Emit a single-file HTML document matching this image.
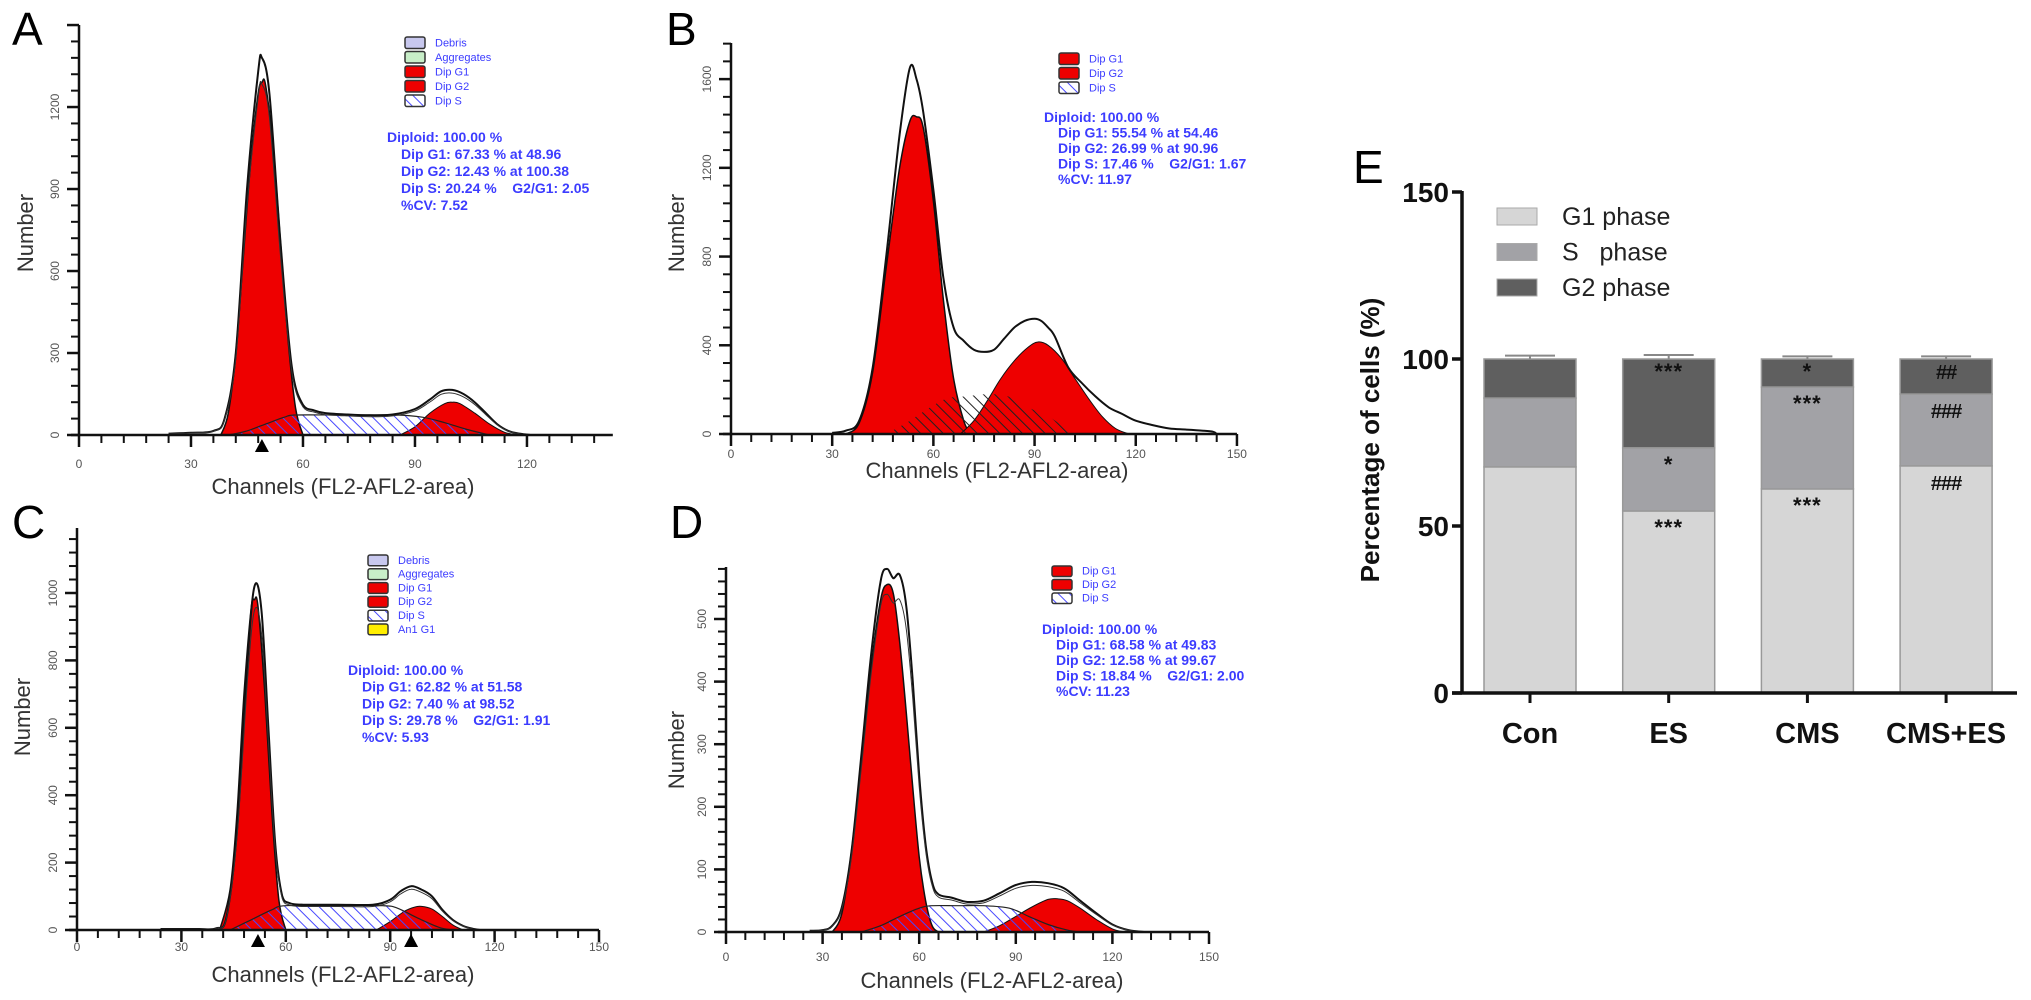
<!DOCTYPE html>
<html><head><meta charset="utf-8"><title>Cell cycle flow cytometry</title>
<style>
html,body{margin:0;padding:0;background:#fff;}
svg{display:block;}
.tk{font-family:"Liberation Sans",sans-serif;font-size:12px;fill:#555;}
.ax{font-family:"Liberation Sans",sans-serif;font-size:22px;fill:#333;}
.pl{font-family:"Liberation Sans",sans-serif;font-size:46px;fill:#000;}
.info{font-family:"Liberation Sans",sans-serif;font-size:14px;font-weight:bold;fill:#3c3cff;}
.leg{font-family:"Liberation Sans",sans-serif;font-size:11px;fill:#3c3cff;}
.eb{font-family:"Liberation Sans",sans-serif;font-weight:bold;fill:#111;}
</style></head>
<body>
<svg id="fig" width="2031" height="1000" viewBox="0 0 2031 1000" xmlns="http://www.w3.org/2000/svg">
<defs>
<pattern id="hatchBlue" width="8" height="8" patternUnits="userSpaceOnUse" patternTransform="rotate(-45)">
<rect width="8" height="8" fill="none"/><line x1="0" y1="0" x2="0" y2="8" stroke="#4848ff" stroke-width="2"/></pattern>
<pattern id="hatchBlack" width="8" height="8" patternUnits="userSpaceOnUse" patternTransform="rotate(-45)">
<line x1="0" y1="0" x2="0" y2="8" stroke="#222" stroke-width="2"/></pattern>
</defs>
</svg>
<script>
// ---------- Histogram data (channels / counts) ----------
const aOuterCh=[24,30,36,39,42,45,48,49,51,54,57,60,63,66,72,78,84,90,94,97,100,103,106,109,112,115,118,121];
const aOuterV=[5,8,15,60,300,900,1330,1380,1250,700,250,110,90,80,75,72,75,95,130,160,165,150,120,80,40,15,5,0];
const aG1Ch=[38,40,42,44,46,48,49,50,52,54,56,58,60];
const aG1V=[0,80,300,650,1000,1250,1290,1280,1050,700,350,100,0];
const aSCh=[40,45,50,55,58,70,85,92,98,104,110];
const aSV=[0,15,40,65,73,73,73,65,45,20,0];
const aG2Ch=[86,90,94,98,100,102,106,110,114,118];
const aG2V=[0,30,80,115,120,115,80,40,10,0];

const bOuterCh=[30,34,38,42,46,50,53,55,57,60,63,66,69,72,75,78,81,84,87,90,92,94,96,100,104,108,112,116,120,125,130,135,140,143,144];
const bOuterV=[5,15,60,300,800,1350,1650,1600,1450,1100,700,480,420,380,370,380,430,480,510,520,510,480,440,300,230,170,120,90,60,40,25,20,15,10,0];
const bG1Ch=[34,38,42,46,50,53,55,57,60,63,66,69,71];
const bG1V=[0,50,280,750,1200,1410,1430,1380,1050,600,250,60,0];
const bSCh=[46,52,58,64,70,76,82,88,94,100,104];
const bSV=[0,50,110,160,170,180,170,120,80,20,0];
const bG2Ch=[68,72,76,80,84,88,91,94,98,102,106,110,114,118];
const bG2V=[0,60,150,250,330,390,415,400,340,250,160,80,25,0];

const cOuterCh=[24,28,35,40,43,46,49,51,53,55,57,59,61,65,75,85,90,93,96,99,102,105,108,111,114,116];
const cOuterV=[3,3,3,5,40,300,800,1020,950,600,250,100,80,75,75,75,90,115,130,120,100,60,30,12,3,0];
const cG1Ch=[41,44,46,48,50,51,52,54,56,58,60];
const cG1V=[0,120,350,700,950,980,960,700,350,90,0];
const cSCh=[44,50,56,60,75,88,92,98,104,108];
const cSV=[0,30,60,72,72,72,65,35,8,0];
const cG2Ch=[86,90,94,97,99,102,105,108,111];
const cG2V=[0,25,55,68,70,62,40,15,0];

const dOuterCh=[26,30,33,36,39,42,45,48,50,52,54,56,58,60,62,64,66,70,75,80,85,90,95,100,105,110,115,120,125,130];
const dOuterV=[2,3,10,40,130,280,440,560,580,565,570,520,400,250,140,80,60,55,48,50,62,75,80,78,70,50,30,12,3,0];
const dG1Ch=[33,36,39,42,45,48,50,52,54,56,58,60,62,64,66];
const dG1V=[0,30,130,270,420,530,555,540,460,350,230,120,50,10,0];
const dSCh=[42,48,54,60,64,72,80,88,94,100,106,110];
const dSV=[0,10,25,38,42,42,42,38,25,12,3,0];
const dG2Ch=[80,85,90,95,100,103,106,110,115,120,124];
const dG2V=[0,10,25,40,52,53,50,38,20,5,0];

const xTickLabels=[0,30,60,90,120,150];
const aYTicks=[0,300,600,900,1200];
const bYTicks=[0,400,800,1200,1600];
const cYTicks=[0,200,400,600,800,1000];
const dYTicks=[0,100,200,300,400,500];

const aInfo=["Diploid: 100.00 %","Dip G1: 67.33 % at 48.96","Dip G2: 12.43 % at 100.38","Dip S: 20.24 %    G2/G1: 2.05","%CV: 7.52"];
const bInfo=["Diploid: 100.00 %","Dip G1: 55.54 % at 54.46","Dip G2: 26.99 % at 90.96","Dip S: 17.46 %    G2/G1: 1.67","%CV: 11.97"];
const cInfo=["Diploid: 100.00 %","Dip G1: 62.82 % at 51.58","Dip G2: 7.40 % at 98.52","Dip S: 29.78 %    G2/G1: 1.91","%CV: 5.93"];
const dInfo=["Diploid: 100.00 %","Dip G1: 68.58 % at 49.83","Dip G2: 12.58 % at 99.67","Dip S: 18.84 %    G2/G1: 2.00","%CV: 11.23"];

// ---------- Bar chart data ----------
const groups=["Con","ES","CMS","CMS+ES"];
const g1Vals=[67.7,54.5,61.1,68.0];
const sVals=[20.6,18.9,30.5,21.5];
const g2Vals=[11.7,26.6,8.4,10.5];
const g1Err=[0.4,1.0,0.6,0.5];
const sErr=[0.3,0.3,0.5,0.4];
const g2Err=[1.0,1.2,0.8,0.8];
const g1Sig=["","***","***","###"];
const sSig=["","*","***","###"];
const g2Sig=["","***","*","##"];
const eTicks=[0,50,100,150];

const NS="http://www.w3.org/2000/svg";
const svg=document.getElementById('fig');
function mk(tag,attrs,parent){const e=document.createElementNS(NS,tag);for(const k in attrs)e.setAttribute(k,attrs[k]);(parent||svg).appendChild(e);return e;}
function txt(s,attrs,parent){const e=mk('text',attrs,parent);e.textContent=s;return e;}

function smoothPath(pts){
  let d="M"+pts[0][0]+","+pts[0][1];
  for(let i=0;i<pts.length-1;i++){
    const p0=pts[i-1]||pts[i],p1=pts[i],p2=pts[i+1],p3=pts[i+2]||p2;
    const c1x=p1[0]+(p2[0]-p0[0])/6,c1y=p1[1]+(p2[1]-p0[1])/6;
    const c2x=p2[0]-(p3[0]-p1[0])/6,c2y=p2[1]-(p3[1]-p1[1])/6;
    d+=" C"+c1x.toFixed(1)+","+Math.min(c1y,Math.max(p1[1],p2[1])+0).toFixed(1)+" "+c2x.toFixed(1)+","+c2y.toFixed(1)+" "+p2[0].toFixed(1)+","+p2[1].toFixed(1);
  }
  return d;
}

function panel(p){
  const g=mk('g',{});
  
  
  const X=ch=>p.x0+ch*p.pxc, Y=v=>p.y0-v*p.pxv;
  const pts=(chs,vs)=>chs.map((c,i)=>[X(c),Y(vs[i])]);
  const area=(chs,vs)=>smoothPath(pts(chs,vs))+" L"+X(chs[chs.length-1])+","+p.y0+" L"+X(chs[0])+","+p.y0+" Z";
  // S area white under
  if(p.sWhite){const s=mk('path',{d:area(p.sCh,p.sV),fill:'#fff',stroke:'none'},g);}
  const r1=mk('path',{d:area(p.g1Ch,p.g1V),fill:'#ee0000',stroke:'#111','stroke-width':1.5},g);
  
  const r2=mk('path',{d:area(p.g2Ch,p.g2V),fill:'#ee0000',stroke:'#111','stroke-width':1},g);
  
  const sh=mk('path',{d:area(p.sCh,p.sV),fill:p.sWhite?'url(#hatchBlue)':'url(#hatchBlack)',stroke:p.sWhite?'#222':'none','stroke-width':1.2},g);
  
  // outer data lines
  const o=mk('path',{d:smoothPath(pts(p.oCh,p.oV)),fill:'none',stroke:'#111','stroke-width':2},g);
  
  if(p.double){const o2=mk('path',{d:smoothPath(pts(p.oCh,p.oV.map(v=>v*0.93))),fill:'none',stroke:'#333','stroke-width':1},g);}
  // axes
  const ax=mk('g',{stroke:'#111','stroke-width':2.5},g);
  
  mk('line',{x1:p.x0,y1:p.yTop,x2:p.x0,y2:p.y0+1},ax);
  mk('line',{x1:p.x0-8,y1:p.y0,x2:X(p.xMax),y2:p.y0},ax);
  for(let c=0;c<=p.xMax;c+=6){const big=c%30===0;mk('line',{x1:X(c),y1:p.y0,x2:X(c),y2:p.y0+(big?12:8),'stroke-width':big?2.5:2},ax);}
  const step=p.yT[1]/5;
  for(let v=0;Y(v)>=p.yTop-0.5;v+=step){const big=Math.abs(v/p.yT[1]-Math.round(v/p.yT[1]))<1e-6;mk('line',{x1:p.x0-(big?12:8),y1:Y(v),x2:p.x0,y2:Y(v),'stroke-width':big?2.5:2},ax);}
  xTickLabels.forEach(c=>{if(c<=p.xMax+1){const t=txt(String(c),{x:X(c),y:p.xLabY,'text-anchor':'middle',class:'tk'},g);}});
  p.yT.forEach(v=>{const t=txt(String(v),{x:0,y:0,'text-anchor':'middle',class:'tk',transform:`translate(${p.x0-20},${Y(v)}) rotate(-90)`},g);});
  (p.markers||[]).forEach(c=>{const m=mk('path',{d:`M${X(c)-7},${p.y0+17} L${X(c)+7},${p.y0+17} L${X(c)},${p.y0+4} Z`,fill:'#000'},g);});
  const xt=txt("Channels (FL2-AFL2-area)",{x:p.xTitle[0],y:p.xTitle[1],'text-anchor':'middle',class:'ax'},g);
  
  const yt=txt("Number",{x:0,y:0,'text-anchor':'middle',class:'ax',transform:`translate(${p.yTitle[0]},${p.yTitle[1]}) rotate(-90)`},g);
  
  const pl=txt(p.letter,{x:p.letterPos[0],y:p.letterPos[1],class:'pl'},g);
  
  // legend
  const lg=mk('g',{},g);
  
  p.legend.forEach((L,i)=>{const yy=p.legPos[1]+i*p.legStep;
    const fill=L[1]==='hatch'?'url(#hatchBlue)':L[1];
    if(L[1]==='hatch')mk('rect',{x:p.legPos[0],y:yy,width:20,height:p.legStep-3,fill:'#fff'},lg);
    const r=mk('rect',{x:p.legPos[0],y:yy,width:20,height:p.legStep-3,fill:fill,stroke:'#333','stroke-width':1.5,rx:2},lg);
    
    const t=txt(L[0],{x:p.legPos[0]+30,y:yy+p.legStep-5,class:'leg'},lg);
    });
  p.info.forEach((s,i)=>{const t=txt(s,{x:i===0?p.infoPos[0]:p.infoPos[0]+14,y:p.infoPos[1]+i*p.infoStep,class:'info','font-size':p.infoSize},g);
    
    t.setAttribute('xml:space','preserve');t.style.whiteSpace='pre';});
}
const leg5=[["Debris","#c8c8ee"],["Aggregates","#c8eec8"],["Dip G1","#ee0000"],["Dip G2","#ee0000"],["Dip S","hatch"]];
const leg3=[["Dip G1","#ee0000"],["Dip G2","#ee0000"],["Dip S","hatch"]];
panel({id:'panel-a',letter:'A',letterPos:[12,45],x0:79,y0:435,pxc:3.733,pxv:0.2733,yTop:25,xMax:143,yT:aYTicks,xLabY:468,
  oCh:aOuterCh,oV:aOuterV,g1Ch:aG1Ch,g1V:aG1V,sCh:aSCh,sV:aSV,g2Ch:aG2Ch,g2V:aG2V,sWhite:true,double:true,markers:[49],
  xTitle:[343,494],yTitle:[33,233],legend:leg5,legPos:[405,37],legStep:14.5,info:aInfo,infoPos:[387,142],infoStep:17,infoSize:15});
panel({id:'panel-b',letter:'B',letterPos:[666,45],x0:731,y0:434,pxc:3.373,pxv:0.2218,yTop:43,xMax:150,yT:bYTicks,xLabY:458,
  oCh:bOuterCh,oV:bOuterV,g1Ch:bG1Ch,g1V:bG1V,sCh:bSCh,sV:bSV,g2Ch:bG2Ch,g2V:bG2V,sWhite:false,double:false,
  xTitle:[997,478],yTitle:[684,233],legend:leg3,legPos:[1059,53],legStep:14.5,info:bInfo,infoPos:[1044,122],infoStep:15.5,infoSize:14});
panel({id:'panel-c',letter:'C',letterPos:[12,538],x0:77,y0:930,pxc:3.48,pxv:0.337,yTop:528,xMax:150,yT:cYTicks,xLabY:951,
  oCh:cOuterCh,oV:cOuterV,g1Ch:cG1Ch,g1V:cG1V,sCh:cSCh,sV:cSV,g2Ch:cG2Ch,g2V:cG2V,sWhite:true,double:true,markers:[52,96],
  xTitle:[343,982],yTitle:[30,717],legend:leg5.concat([["An1 G1","#ffee00"]]),legPos:[368,555],legStep:13.8,info:cInfo,infoPos:[348,675],infoStep:16.7,infoSize:15});
panel({id:'panel-d',letter:'D',letterPos:[670,538],x0:726,y0:932,pxc:3.22,pxv:0.626,yTop:567,xMax:150,yT:dYTicks,xLabY:961,
  oCh:dOuterCh,oV:dOuterV,g1Ch:dG1Ch,g1V:dG1V,sCh:dSCh,sV:dSV,g2Ch:dG2Ch,g2V:dG2V,sWhite:true,double:true,
  xTitle:[992,988],yTitle:[684,750],legend:leg3,legPos:[1052,566],legStep:13.5,info:dInfo,infoPos:[1042,634],infoStep:15.5,infoSize:14});

// ---------- Panel E stacked bars ----------
(function(){
  const g=mk('g',{});
  
  
  const x0=1462,y0=693,ppu=3.34,bw=92,bx0=1484,gap=138.7;
  const Y=v=>y0-v*ppu, BX=i=>bx0+i*gap;
  const cols=['#d6d6d6','#a2a2a6','#5f5f5f'];
  groups.forEach((name,i)=>{
    const segs=[[0,g1Vals[i],g1Err[i],g1Sig[i],'g1'],[g1Vals[i],sVals[i],sErr[i],sSig[i],'s'],[g1Vals[i]+sVals[i],g2Vals[i],g2Err[i],g2Sig[i],'g2']];
    segs.forEach((sg,k)=>{
      const top=sg[0]+sg[1];
      const r=mk('rect',{x:BX(i),y:Y(top),width:bw,height:sg[1]*ppu,fill:cols[k],stroke:'#999','stroke-width':1.5},g);
      
      
      const cx=BX(i)+bw/2, ey=Y(top+sg[2]);
      const e=mk('path',{d:`M${cx},${Y(top)} L${cx},${ey} M${cx-25},${ey} L${cx+25},${ey}`,stroke:k===2?'#888':'#999','stroke-width':2,fill:'none'},g);
      
      if(sg[3]){const t=txt(sg[3],{x:cx,y:Y(top)+(k===2?20:24)+(sg[3].length===1?0:0),'text-anchor':'middle',class:'eb','font-size':sg[3][0]==='#'?20:22,'letter-spacing':sg[3][0]==='#'?-1:1},g);
        }
    });
    const tk=mk('line',{x1:BX(i)+bw/2,y1:y0,x2:BX(i)+bw/2,y2:y0+10,stroke:'#111','stroke-width':3},g);
    const lb=txt(name,{x:BX(i)+bw/2,y:743,'text-anchor':'middle',class:'eb','font-size':29},g);
    
  });
  const ax=mk('g',{stroke:'#111','stroke-width':3.5},g);
  
  mk('line',{x1:x0,y1:Y(150)-1,x2:x0,y2:y0+1.5},ax);
  mk('line',{x1:x0-10,y1:y0,x2:2017,y2:y0},ax);
  eTicks.forEach(v=>{mk('line',{x1:x0-10,y1:Y(v),x2:x0,y2:Y(v)},ax);
    const t=txt(String(v),{x:x0-13,y:Y(v)+10,'text-anchor':'end',class:'eb','font-size':28},g);
    });
  const yt=txt("Percentage of cells (%)",{x:0,y:0,'text-anchor':'middle',class:'eb','font-size':26,transform:'translate(1379,440) rotate(-90)'},g);
  
  const el=txt("E",{x:1353,y:183,class:'pl','font-size':44},g);
  
  const lg=mk('g',{},g);
  
  [["G1 phase",cols[0]],["S   phase",cols[1]],["G2 phase",cols[2]]].forEach((L,i)=>{
    const yy=216+i*35.5;
    const r=mk('rect',{x:1497,y:yy-8,width:40,height:17,fill:L[1],stroke:'#aaa','stroke-width':1},lg);
    
    const t=txt(L[0],{x:1562,y:yy+9,'font-family':'Liberation Sans, sans-serif','font-size':25,fill:'#222'},lg);
    t.setAttribute('xml:space','preserve');t.style.whiteSpace='pre';
    
  });
})();
</script>
</body></html>
